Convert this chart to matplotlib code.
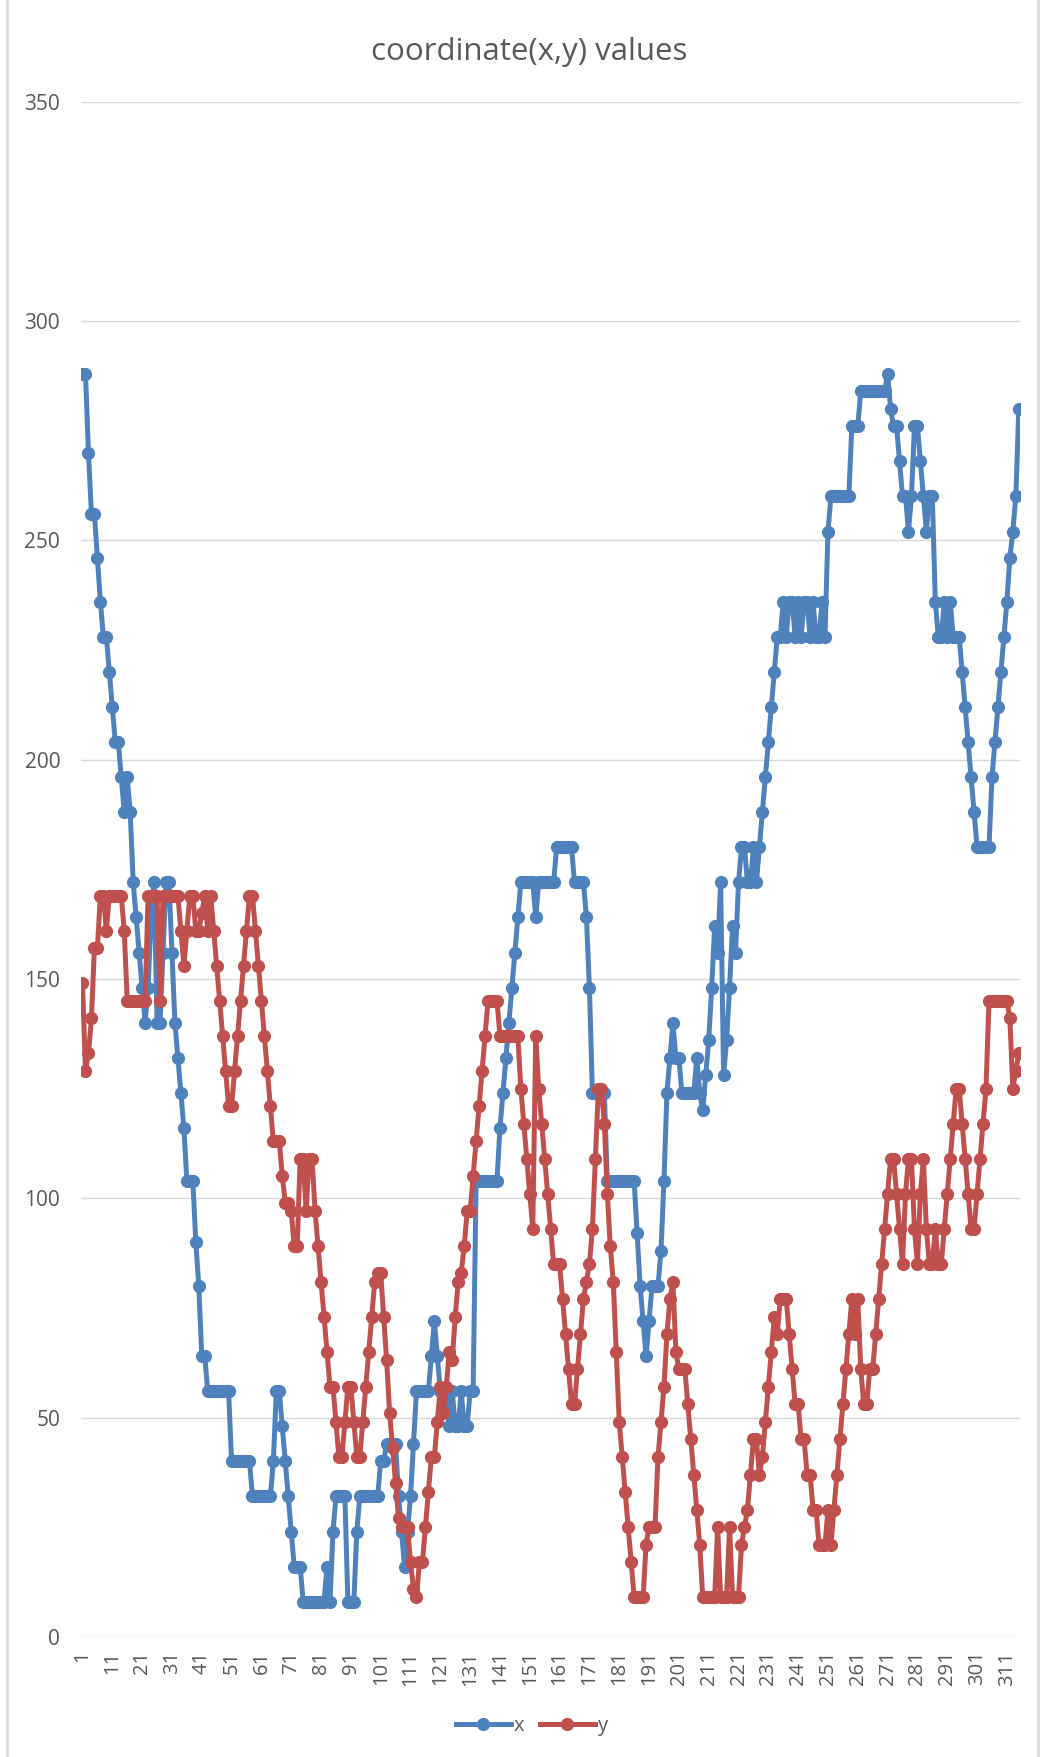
"""
coordinate_plot.py — x/y coordinate trace per sample index
Line chart with markers, Excel-like styling.
"""

import matplotlib
matplotlib.use("Agg")
import matplotlib.pyplot as plt
from matplotlib.lines import Line2D

# ── Colours / fonts ──────────────────────────────────────────────────────────
X_BLUE   = "#4F81BD"
Y_RED    = "#C0504D"
TXT_GREY = "#595959"
GRID     = "#D9D9D9"
FONT     = "Open Sans"

# ── Data ────────────────────────────────────────────────────────────────────
x_values = [
    288, 288, 270, 256, 256, 246, 236, 228, 228, 220,
    212, 204, 204, 196, 188, 196, 188, 172, 164, 156,
    148, 140, 148, 164, 172, 140, 140, 156, 172, 172,
    156, 140, 132, 124, 116, 104, 104, 104, 90, 80,
    64, 64, 56, 56, 56, 56, 56, 56, 56, 56,
    40, 40, 40, 40, 40, 40, 40, 32, 32, 32,
    32, 32, 32, 32, 40, 56, 56, 48, 40, 32,
    24, 16, 16, 16, 8, 8, 8, 8, 8, 8,
    8, 8, 16, 8, 24, 32, 32, 32, 32, 8,
    8, 8, 24, 32, 32, 32, 32, 32, 32, 32,
    40, 40, 44, 44, 44, 44, 32, 24, 16, 24,
    32, 44, 56, 56, 56, 56, 56, 64, 72, 64,
    56, 56, 56, 48, 56, 48, 48, 56, 48, 48,
    56, 56, 104, 104, 104, 104, 104, 104, 104, 104,
    116, 124, 132, 140, 148, 156, 164, 172, 172, 172,
    172, 172, 164, 172, 172, 172, 172, 172, 172, 180,
    180, 180, 180, 180, 180, 172, 172, 172, 172, 164,
    148, 124, 124, 124, 124, 124, 104, 104, 104, 104,
    104, 104, 104, 104, 104, 104, 92, 80, 72, 64,
    72, 80, 80, 80, 88, 104, 124, 132, 140, 132,
    132, 124, 124, 124, 124, 124, 132, 124, 120, 128,
    136, 148, 162, 156, 172, 128, 136, 148, 162, 156,
    172, 180, 180, 172, 172, 180, 172, 180, 188, 196,
    204, 212, 220, 228, 228, 236, 228, 236, 236, 228,
    236, 228, 236, 236, 228, 236, 228, 228, 236, 228,
    252, 260, 260, 260, 260, 260, 260, 260, 276, 276,
    276, 284, 284, 284, 284, 284, 284, 284, 284, 284,
    288, 280, 276, 276, 268, 260, 260, 252, 260, 276,
    276, 268, 260, 252, 260, 260, 236, 228, 228, 236,
    228, 236, 228, 228, 228, 220, 212, 204, 196, 188,
    180, 180, 180, 180, 180, 196, 204, 212, 220, 228,
    236, 246, 252, 260, 280,
]

y_values = [
    149, 129, 133, 141, 157, 157, 169, 169, 161, 169,
    169, 169, 169, 169, 161, 145, 145, 145, 145, 145,
    145, 145, 169, 169, 169, 169, 145, 169, 169, 169,
    169, 169, 169, 161, 153, 161, 169, 169, 161, 161,
    165, 169, 161, 169, 161, 153, 145, 137, 129, 121,
    121, 129, 137, 145, 153, 161, 169, 169, 161, 153,
    145, 137, 129, 121, 113, 113, 113, 105, 99, 99,
    97, 89, 89, 109, 109, 97, 109, 109, 97, 89,
    81, 73, 65, 57, 57, 49, 41, 41, 49, 57,
    57, 49, 41, 41, 49, 57, 65, 73, 81, 83,
    83, 73, 63, 51, 43, 35, 27, 25, 25, 25,
    17, 11, 9, 17, 17, 25, 33, 41, 41, 49,
    57, 51, 57, 65, 63, 73, 81, 83, 89, 97,
    97, 105, 113, 121, 129, 137, 145, 145, 145, 145,
    137, 137, 137, 137, 137, 137, 137, 125, 117, 109,
    101, 93, 137, 125, 117, 109, 101, 93, 85, 85,
    85, 77, 69, 61, 53, 53, 61, 69, 77, 81,
    85, 93, 109, 125, 125, 117, 101, 89, 81, 65,
    49, 41, 33, 25, 17, 9, 9, 9, 9, 21,
    25, 25, 25, 41, 49, 57, 69, 77, 81, 65,
    61, 61, 61, 53, 45, 37, 29, 21, 9, 9,
    9, 9, 9, 25, 9, 9, 9, 25, 9, 9,
    9, 21, 25, 29, 37, 45, 45, 37, 41, 49,
    57, 65, 73, 69, 77, 77, 77, 69, 61, 53,
    53, 45, 45, 37, 37, 29, 29, 21, 21, 21,
    29, 21, 29, 37, 45, 53, 61, 69, 77, 69,
    77, 61, 53, 53, 61, 61, 69, 77, 85, 93,
    101, 109, 109, 101, 93, 85, 101, 109, 109, 93,
    85, 101, 109, 93, 85, 85, 93, 85, 85, 93,
    101, 109, 117, 125, 125, 117, 109, 101, 93, 93,
    101, 109, 117, 125, 145, 145, 145, 145, 145, 145,
    145, 141, 125, 129, 133,
]

index = list(range(1, len(x_values) + 1))
cat_ticks = list(range(1, len(index) + 1, 10))
y_ticks = list(range(0, 351, 50))

# ── Figure ───────────────────────────────────────────────────────────────────
W, H, DPI = 1041, 1757, 100
fig = plt.figure(figsize=(W / DPI, H / DPI), dpi=DPI)
fig.patch.set_facecolor("white")

# chart area border (left / right edges only show in the reference)
for xb in (7 / W, 1 - 3 / W):
    fig.add_artist(Line2D([xb, xb], [0, 1], transform=fig.transFigure,
                          color=GRID, linewidth=1.8))

ax = fig.add_axes([81 / W, 120.2 / H, 939.3 / W, 1535.1 / H])

ax.plot(index, x_values, color=X_BLUE, lw=3.6, marker="o", ms=9.5,
        markeredgewidth=0, label="x", zorder=3, solid_joinstyle="round")
ax.plot(index, y_values, color=Y_RED, lw=3.6, marker="o", ms=9.5,
        markeredgewidth=0, label="y", zorder=4, solid_joinstyle="round")

ax.set_xlim(0.5, len(index) + 0.5)
ax.set_ylim(0, 350)
ax.set_yticks(y_ticks)
ax.set_xticks(cat_ticks)
ax.set_xticklabels([str(t) for t in cat_ticks], rotation=90,
                   fontsize=14.5, family=FONT, color=TXT_GREY)
ax.set_yticklabels([str(t) for t in y_ticks],
                   fontsize=15, family=FONT, color=TXT_GREY)
ax.tick_params(axis="both", length=0)
ax.tick_params(axis="y", pad=15)
ax.tick_params(axis="x", pad=10)

ax.yaxis.grid(True, color=GRID, linewidth=1.0)
ax.set_axisbelow(True)
for s in ax.spines.values():
    s.set_visible(False)

fig.text(529 / W, 1 - 52 / H, "coordinate(x,y) values", ha="center", va="center",
         fontsize=22.5, family=FONT, color=TXT_GREY)

leg = fig.legend(loc="center", bbox_to_anchor=(532 / W, 1 - 1726 / H), ncol=2,
                 frameon=False, handlelength=2.7, handletextpad=0.15,
                 columnspacing=0.8, prop={"family": FONT, "size": 14.5})
for t in leg.get_texts():
    t.set_color(TXT_GREY)

plt.savefig("out.png", dpi=DPI, facecolor="white")
plt.close()
